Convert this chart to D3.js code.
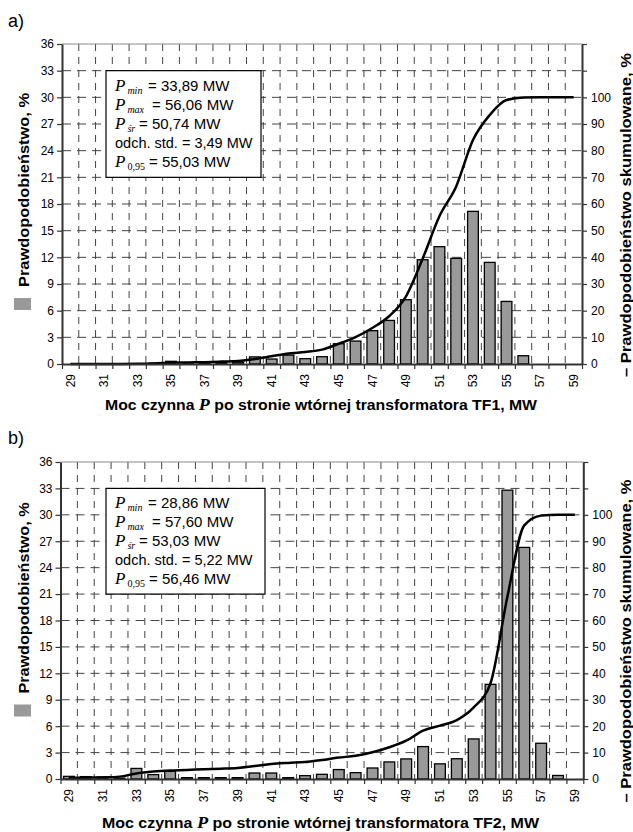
<!DOCTYPE html>
<html>
<head>
<meta charset="utf-8">
<script src="https://cdn.jsdelivr.net/npm/d3@7"></script>
<style>
  body { margin: 0; background: #fff; }
  svg text { font-family: "Liberation Sans", Arial, sans-serif; fill: #000; }
  .serif { font-family: "Liberation Serif", "Times New Roman", serif !important; }
</style>
</head>
<body>
<svg id="chart" width="633" height="832"></svg>
<script>
// categories on the x axis (MW)
const categories = [29, 30, 31, 32, 33, 34, 35, 36, 37, 38, 39, 40, 41, 42, 43, 44,
                    45, 46, 47, 48, 49, 50, 51, 52, 53, 54, 55, 56, 57, 58, 59];
const xTickLabels = [29, 31, 33, 35, 37, 39, 41, 43, 45, 47, 49, 51, 53, 55, 57, 59];
const leftTicks = [0, 3, 6, 9, 12, 15, 18, 21, 24, 27, 30, 33, 36];
const rightTicks = [0, 10, 20, 30, 40, 50, 60, 70, 80, 90, 100, 110, 120];

// a) TF1 - probability (%) and cumulative probability (%)
const tf1Prob = [0, 0, 0, 0, 0, 0.1, 0.3, 0.1, 0.1, 0.15, 0.2, 0.8, 0.56, 1.0, 0.6, 0.82,
                 2.28, 2.58, 3.75, 4.9, 7.23, 11.73, 13.2, 11.88, 17.17, 11.43, 7.04, 0.93, 0, 0, 0];
const tf1Cum = [0, 0, 0, 0, 0.05, 0.2, 0.5, 0.6, 0.7, 0.9, 1.1, 1.9, 2.9, 3.9, 4.5, 5.4,
                7.6, 10.1, 13.5, 17.9, 25.3, 39.5, 55.4, 66.6, 84, 93.4, 99, 99.9, 100, 100, 100];

// b) TF2
const tf2Prob = [0.3, 0.27, 0.23, 0.1, 1.2, 0.5, 0.87, 0.15, 0.15, 0.15, 0.15, 0.68, 0.68, 0.15, 0.38, 0.53,
                 1.07, 0.72, 1.25, 1.94, 2.28, 3.68, 1.72, 2.3, 4.55, 10.75, 32.8, 26.3, 4.06, 0.4, 0];
const tf2Cum = [0.4, 0.5, 0.6, 0.9, 2.1, 2.8, 3.2, 3.4, 3.7, 3.9, 4.2, 4.9, 5.7, 6.1, 6.4, 7.2,
                8.1, 8.8, 10.1, 12, 14.5, 18.3, 20.2, 22.3, 27.1, 36.3, 69, 96, 99.7, 100, 100];

// stats shown in the boxes
const statLabels = [
  { sub: "min", italic: true, eqX: 42 },
  { sub: "max", italic: true, eqX: 46 },
  { sub: "śr", italic: true, eqX: 33 },
  { plain: "odch. std." },
  { sub: "0,95", italic: false, eqX: 43 }
];
const tf1Stats = ["33,89", "56,06", "50,74", "3,49", "55,03"];
const tf2Stats = ["28,86", "57,60", "53,03", "5,22", "56,46"];

const svg = d3.select("#chart");

function drawPanel(cfg) {
  const g = svg.append("g");
  const n = categories.length;

  const x = d3.scaleBand().domain(categories)
    .range([cfg.left, cfg.right]).paddingInner(0.36).paddingOuter(0.18);
  const xb = d3.scaleLinear().domain([0, n]).range([cfg.left, cfg.right]);
  const yL = d3.scaleLinear().domain([0, 36]).range([cfg.bottom, cfg.top]);
  const yR = d3.scaleLinear().domain([0, 120]).range([cfg.bottom, cfg.top]);

  // grid
  g.append("g").selectAll("line")
    .data(leftTicks.filter(t => t > 0 && t < 36))
    .join("line")
    .attr("x1", cfg.left).attr("x2", cfg.right)
    .attr("y1", d => yL(d)).attr("y2", d => yL(d))
    .attr("stroke", "#444").attr("stroke-dasharray", "9,6");
  g.append("g").selectAll("line")
    .data(d3.range(1, n))
    .join("line")
    .attr("x1", d => xb(d)).attr("x2", d => xb(d))
    .attr("y1", cfg.top).attr("y2", cfg.bottom)
    .attr("stroke", "#444").attr("stroke-dasharray", "7,6");
  g.append("line")
    .attr("x1", cfg.left).attr("x2", cfg.right)
    .attr("y1", yL(36)).attr("y2", yL(36))
    .attr("stroke", "#888");

  // bars
  const rows = categories.map((c, i) => ({ c: c, p: cfg.prob[i], cum: cfg.cum[i] }));
  g.append("g").selectAll("rect")
    .data(rows.filter(d => d.p > 0))
    .join("rect")
    .attr("x", d => x(d.c))
    .attr("width", x.bandwidth())
    .attr("y", d => yL(d.p))
    .attr("height", d => yL(0) - yL(d.p))
    .attr("fill", "#999")
    .attr("stroke", "#000")
    .attr("stroke-width", 1.3);

  // cumulative curve
  const line = d3.line()
    .x(d => x(d.c) + x.bandwidth() / 2)
    .y(d => yR(d.cum))
    .curve(d3.curveMonotoneX);
  g.append("path")
    .datum(rows)
    .attr("d", line)
    .attr("fill", "none")
    .attr("stroke", "#000")
    .attr("stroke-width", 2.5);

  // stats box
  g.append("rect")
    .attr("x", cfg.boxX).attr("y", yL(33))
    .attr("width", cfg.boxW).attr("height", yL(21) - yL(33))
    .attr("fill", "#fff").attr("stroke", "#000").attr("stroke-width", 1.2);
  const lineOff = [20, 39, 58, 77, 96];
  statLabels.forEach((s, i) => {
    const y = yL(33) + lineOff[i];
    if (s.plain) {
      g.append("text")
        .attr("x", cfg.boxX + 9).attr("y", y)
        .style("font-size", "14.5px")
        .text(s.plain + " = " + cfg.stats[i] + " MW");
      return;
    }
    const t = g.append("text")
      .attr("x", cfg.boxX + 9).attr("y", y);
    t.append("tspan").attr("class", "serif")
      .style("font-style", "italic").style("font-size", "17px").text("P");
    t.append("tspan").attr("class", "serif")
      .style("font-style", s.italic ? "italic" : "normal")
      .style("font-size", "10px").attr("dx", 2).attr("dy", 3).text(s.sub);
    g.append("text")
      .attr("x", cfg.boxX + s.eqX).attr("y", y)
      .style("font-size", "15px")
      .text("= " + cfg.stats[i] + " MW");
  });

  // left axis
  const axL = g.append("g")
    .attr("transform", `translate(${cfg.left},0)`)
    .call(d3.axisLeft(yL).tickValues(leftTicks).tickSize(5).tickSizeOuter(0).tickPadding(3));
  axL.select(".domain").attr("stroke", "#333").attr("stroke-width", 2);
  axL.selectAll(".tick line").attr("stroke", "#333").attr("stroke-width", 1.2);
  axL.selectAll("text").style("font-size", "12px");

  // right axis
  const axR = g.append("g")
    .attr("transform", `translate(${cfg.right},0)`)
    .call(d3.axisRight(yR).tickValues(rightTicks).tickSize(5).tickSizeOuter(0).tickPadding(4)
      .tickFormat(d => d <= 100 ? d : ""));
  axR.select(".domain").attr("stroke", "#333").attr("stroke-width", 2);
  axR.selectAll(".tick line").attr("stroke", "#333").attr("stroke-width", 1.2);
  axR.selectAll("text").style("font-size", "12px");

  // bottom axis (ticks between categories)
  const axB = g.append("g")
    .attr("transform", `translate(0,${cfg.bottom})`)
    .call(d3.axisBottom(xb).tickValues(d3.range(0, n + 1)).tickSize(5).tickSizeOuter(0).tickFormat(""));
  axB.select(".domain").attr("stroke", "#333").attr("stroke-width", 2);
  axB.selectAll(".tick line").attr("stroke", "#333").attr("stroke-width", 1.2);

  g.append("g").selectAll("text")
    .data(xTickLabels)
    .join("text")
    .attr("transform", d => `translate(${x(d) + x.bandwidth() / 2},${cfg.bottom + 10}) rotate(-90)`)
    .attr("text-anchor", "end")
    .attr("dy", "0.35em")
    .style("font-size", "12px")
    .text(d => d);

  // x title
  const xt = g.append("text")
    .attr("x", cfg.xtCx).attr("y", cfg.xtY)
    .attr("text-anchor", "middle")
    .attr("textLength", cfg.xtLen).attr("lengthAdjust", "spacingAndGlyphs")
    .style("font-size", "14px").style("font-weight", "bold");
  xt.append("tspan").text("Moc czynna ");
  xt.append("tspan").attr("class", "serif").style("font-style", "italic").style("font-size", "16px").text("P");
  xt.append("tspan").text("  po stronie wtórnej transformatora " + cfg.name + ", MW");

  // left title with legend key
  g.append("text")
    .attr("transform", `translate(29,${cfg.ltCy}) rotate(-90)`)
    .attr("text-anchor", "middle")
    .attr("textLength", cfg.ltLen).attr("lengthAdjust", "spacingAndGlyphs")
    .style("font-size", "14px").style("font-weight", "bold")
    .text("Prawdopodobieństwo,  %");
  g.append("rect")
    .attr("x", 14).attr("y", cfg.ltCy + cfg.ltLen / 2 + 11)
    .attr("width", 17).attr("height", 12)
    .attr("fill", "#999");

  // right title
  g.append("text")
    .attr("transform", `translate(631,${cfg.rtCy}) rotate(-90)`)
    .attr("text-anchor", "middle")
    .attr("textLength", cfg.rtLen).attr("lengthAdjust", "spacingAndGlyphs")
    .style("font-size", "14px").style("font-weight", "bold")
    .text("– Prawdopodobieństwo skumulowane,  %");

  // panel label
  g.append("text")
    .attr("x", 8).attr("y", cfg.labelY)
    .style("font-size", "18px")
    .text(cfg.label);
}

drawPanel({
  label: "a)", labelY: 27, name: "TF1",
  left: 62, right: 582, top: 44, bottom: 364,
  prob: tf1Prob, cum: tf1Cum, stats: tf1Stats,
  boxX: 106, boxW: 155,
  xtCx: 321, xtY: 410, xtLen: 432,
  ltCy: 190, ltLen: 194,
  rtCy: 215, rtLen: 324
});

drawPanel({
  label: "b)", labelY: 444, name: "TF2",
  left: 60.5, right: 583.3, top: 462, bottom: 779,
  prob: tf2Prob, cum: tf2Cum, stats: tf2Stats,
  boxX: 106, boxW: 159,
  xtCx: 320.5, xtY: 828, xtLen: 437,
  ltCy: 598, ltLen: 191,
  rtCy: 641, rtLen: 323
});
</script>
</body>
</html>
